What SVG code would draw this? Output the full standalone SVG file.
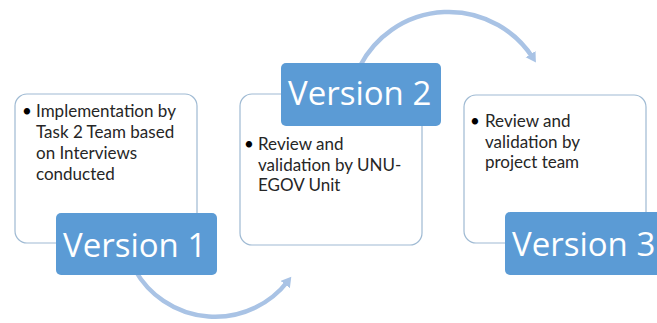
<svg xmlns="http://www.w3.org/2000/svg" width="657" height="323" viewBox="0 0 657 323">
<style>
.box{fill:#fff;stroke:#9fbad3;stroke-width:1.2}
.lab{fill:#5b9bd5}
.arc{fill:none;stroke:#a9c3e5;stroke-width:4.5}
.t{font-family:Lato,"Open Sans","Liberation Sans",sans-serif;font-size:17px;fill:#262626}
.b{font-family:Lato,"Open Sans","Liberation Sans",sans-serif;font-size:17px;fill:#000}
.v{font-family:"Open Sans","Liberation Sans",sans-serif;font-size:33px;fill:#fff}
</style>
<defs>
<marker id="ah" markerWidth="3" markerHeight="3" refX="1" refY="1.3" orient="auto" markerUnits="strokeWidth">
<path d="M0,0 L2.2,1.3 L0,2.6 Z" fill="#a9c3e5"/>
</marker>
</defs>
<rect width="657" height="323" fill="#fff"/>
<g id="connectors">
<path class="arc" d="M135,270 A92,92 0 0 0 288,281" marker-end="url(#ah)"/>
<path class="arc" d="M360,66 A100,100 0 0 1 533,58" marker-end="url(#ah)"/>
</g>
<g id="node1">
<rect class="box" x="15" y="94" width="182" height="149" rx="12"/>
<text class="b" x="22" y="117">•</text>
<text class="t" x="36" y="117">Implementation by</text>
<text class="t" x="36" y="138">Task 2 Team based</text>
<text class="t" x="36" y="159">on Interviews</text>
<text class="t" x="36" y="180">conducted</text>
<rect class="lab" x="56" y="213" width="161" height="62" rx="5"/>
<text class="v" x="63" y="257">Version 1</text>
</g>
<g id="node2">
<rect class="box" x="240" y="94" width="182" height="151" rx="12"/>
<text class="b" x="244" y="150">•</text>
<text class="t" x="258" y="150">Review and</text>
<text class="t" x="258" y="170.5">validation by UNU-</text>
<text class="t" x="258" y="191">EGOV Unit</text>
<rect class="lab" x="281" y="63" width="160" height="63" rx="5"/>
<text class="v" x="288" y="105">Version 2</text>
</g>
<g id="node3">
<rect class="box" x="464" y="95" width="182" height="148" rx="12"/>
<text class="b" x="470" y="127">•</text>
<text class="t" x="485" y="127">Review and</text>
<text class="t" x="485" y="147.5">validation by</text>
<text class="t" x="485" y="168">project team</text>
<rect class="lab" x="505" y="212" width="161" height="63" rx="5"/>
<text class="v" x="512" y="256">Version 3</text>
</g>
</svg>
